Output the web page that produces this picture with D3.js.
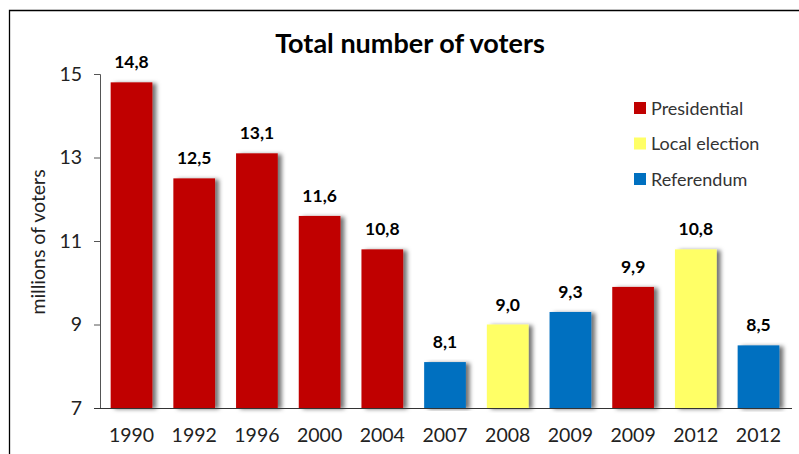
<!DOCTYPE html>
<html lang="en">
<head>
  <meta charset="UTF-8">
  <title>Total number of voters</title>
  <script src="https://d3js.org/d3.v7.min.js"></script>
  <style>
    body {
      margin: 0;
      background: #fff;
      font-family: Lato, "Open Sans", sans-serif;
    }
    svg { display: block; }
  </style>
</head>
<body>
<div id="chart"></div>

<script>
  // data
  const years = ["1990", "1992", "1996", "2000", "2004", "2007", "2008", "2009", "2009", "2012", "2012"];
  const voters = [14.8, 12.5, 13.1, 11.6, 10.8, 8.1, 9.0, 9.3, 9.9, 10.8, 8.5];
  const kinds = ["Presidential", "Presidential", "Presidential", "Presidential", "Presidential",
                 "Referendum", "Local election", "Referendum", "Presidential", "Local election", "Referendum"];
  const legendKinds = ["Presidential", "Local election", "Referendum"];
  const yTicks = [7, 9, 11, 13, 15];

  const width = 799;
  const height = 454;
  const margin = { top: 74, right: 9, bottom: 46, left: 100 };

  const color = d3.scaleOrdinal()
    .domain(legendKinds)
    .range(["#c00000", "#ffff66", "#0070c0"]);

  const rows = years.map((y, i) => ({ id: i, year: y, value: voters[i], kind: kinds[i] }));

  const x = d3.scaleBand()
    .domain(rows.map(d => d.id))
    .range([margin.left, width - margin.right])
    .paddingInner(0.335)
    .paddingOuter(0.17);

  const y = d3.scaleLinear()
    .domain([7, 15])
    .range([height - margin.bottom, margin.top]);

  const svg = d3.select("#chart")
    .append("svg")
    .attr("width", width)
    .attr("height", height);

  // soft shadow on the right of each bar
  const defs = svg.append("defs");
  const shadow = defs.append("filter")
    .attr("id", "shadow")
    .attr("x", "-20%").attr("y", "-5%")
    .attr("width", "150%").attr("height", "110%");
  shadow.append("feDropShadow")
    .attr("dx", 4).attr("dy", 1)
    .attr("stdDeviation", 2)
    .attr("flood-color", "#000")
    .attr("flood-opacity", 0.55);

  // outer frame (only top and left edges are visible)
  svg.append("path")
    .attr("d", `M9.5,${height}V10.5H${width}`)
    .attr("fill", "none")
    .attr("stroke", "#000")
    .attr("stroke-width", 1.3);

  // title
  svg.append("text")
    .attr("x", 410)
    .attr("y", 53)
    .attr("text-anchor", "middle")
    .attr("font-size", 27)
    .attr("font-weight", "bold")
    .attr("fill", "#000")
    .text("Total number of voters");

  // bars
  svg.append("g")
    .selectAll("rect")
    .data(rows)
    .join("rect")
    .attr("x", d => x(d.id))
    .attr("y", d => y(d.value))
    .attr("width", x.bandwidth())
    .attr("height", d => y(7) - y(d.value))
    .attr("fill", d => color(d.kind))
    .attr("filter", "url(#shadow)");

  // value labels
  svg.append("g")
    .selectAll("text")
    .data(rows)
    .join("text")
    .attr("x", d => x(d.id) + x.bandwidth() / 2)
    .attr("y", d => y(d.value) - 14)
    .attr("text-anchor", "middle")
    .attr("font-size", 17.5)
    .attr("font-weight", "bold")
    .attr("fill", "#000")
    .text(d => d.value.toFixed(1).replace(".", ","));

  // y axis
  const yAxis = svg.append("g")
    .attr("transform", `translate(${margin.left},0)`)
    .call(d3.axisLeft(y).tickValues(yTicks).tickSize(6).tickPadding(12));
  yAxis.select(".domain").attr("stroke", "#555").attr("d", `M-6,${y(15)}.5H0.5V${y(7)}`);
  yAxis.selectAll(".tick line").attr("stroke", "#555");
  yAxis.selectAll(".tick text")
    .attr("font-family", "Lato, sans-serif")
    .attr("font-size", 19.5)
    .attr("fill", "#222");

  // x axis
  const xAxis = svg.append("g")
    .attr("transform", `translate(0,${y(7)})`)
    .call(d3.axisBottom(x).tickSize(0).tickPadding(20).tickFormat(i => years[i]));
  xAxis.select(".domain")
    .attr("stroke", "#333")
    .attr("d", `M${margin.left - 6},0.5H${width - 7}`);
  xAxis.selectAll(".tick text")
    .attr("font-family", "Lato, sans-serif")
    .attr("font-size", 19.5)
    .attr("fill", "#222");

  // y axis title
  svg.append("text")
    .attr("transform", `translate(45,${y(11) + 1}) rotate(-90)`)
    .attr("text-anchor", "middle")
    .attr("font-size", 19.5)
    .attr("fill", "#222")
    .text("millions of voters");

  // legend
  const legend = svg.append("g")
    .selectAll("g")
    .data(legendKinds)
    .join("g")
    .attr("transform", (d, i) => `translate(634,${108 + i * 35.5})`);

  legend.append("rect")
    .attr("x", 0)
    .attr("y", -6)
    .attr("width", 12)
    .attr("height", 12)
    .attr("fill", d => color(d));

  legend.append("text")
    .attr("x", 17)
    .attr("y", 6.5)
    .attr("font-size", 18)
    .attr("fill", "#333")
    .text(d => d);
</script>

</body>
</html>
